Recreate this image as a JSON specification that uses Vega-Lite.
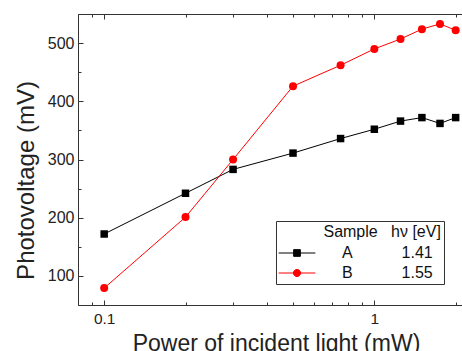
{
  "$schema": "https://vega.github.io/schema/vega-lite/v6.json",
  "autosize": {"type": "none"},
  "padding": {"left": 78, "top": 14, "right": 0, "bottom": 46},
  "width": 384,
  "height": 291,
  "background": "white",
  "config": {
    "view": {"stroke": null},
    "font": "Liberation Sans",
    "axis": {"domainColor": "#333", "tickColor": "#333", "labelColor": "#222", "titleColor": "#222", "grid": false, "labelFont": "Liberation Sans", "titleFont": "Liberation Sans", "titleFontWeight": "normal"},
    "legend": {"labelFont": "Liberation Sans", "titleFont": "Liberation Sans"}
  },
  "data": {"values": [
    {"power": 0.1, "pv": 172, "sample": "A"},
    {"power": 0.2, "pv": 242, "sample": "A"},
    {"power": 0.3, "pv": 283, "sample": "A"},
    {"power": 0.5, "pv": 311, "sample": "A"},
    {"power": 0.75, "pv": 336, "sample": "A"},
    {"power": 1, "pv": 352, "sample": "A"},
    {"power": 1.25, "pv": 366, "sample": "A"},
    {"power": 1.5, "pv": 372, "sample": "A"},
    {"power": 1.75, "pv": 362, "sample": "A"},
    {"power": 2, "pv": 372, "sample": "A"},
    {"power": 0.1, "pv": 79, "sample": "B"},
    {"power": 0.2, "pv": 201, "sample": "B"},
    {"power": 0.3, "pv": 300, "sample": "B"},
    {"power": 0.5, "pv": 426, "sample": "B"},
    {"power": 0.75, "pv": 462, "sample": "B"},
    {"power": 1, "pv": 490, "sample": "B"},
    {"power": 1.25, "pv": 507, "sample": "B"},
    {"power": 1.5, "pv": 524, "sample": "B"},
    {"power": 1.75, "pv": 533, "sample": "B"},
    {"power": 2, "pv": 522, "sample": "B"}
  ]},
  "resolve": {"axis": {"x": "independent", "y": "independent"}},
  "layer": [
    {
      "mark": {"type": "line", "strokeWidth": 1, "clip": true},
      "encoding": {
        "x": {
          "field": "power", "type": "quantitative",
          "scale": {"type": "log", "domain": [0.08, 2.111], "nice": false},
          "axis": {
            "orient": "bottom",
            "values": [0.08, 0.09, 0.1, 0.2, 0.3, 0.4, 0.5, 0.6, 0.7, 0.8, 0.9, 1, 2],
            "labelExpr": "datum.value == 0.1 ? '0.1' : (datum.value == 1 ? '1' : '')",
            "labelFontSize": 15.5,
            "labelPadding": 11,
            "tickSize": {"condition": {"test": "datum.value == 0.1 || datum.value == 1", "value": -5}, "value": -3},
            "title": "Power of incident light (mW)",
            "titleFontSize": 23,
            "titleBaseline": "alphabetic",
            "titleX": 198,
            "titleY": 45,
            "titleAlign": "center"
          }
        },
        "y": {
          "field": "pv", "type": "quantitative",
          "scale": {"domain": [50, 550], "nice": false, "zero": false},
          "axis": {
            "orient": "left",
            "values": [50, 100, 150, 200, 250, 300, 350, 400, 450, 500, 550],
            "labelExpr": "datum.value % 100 == 0 ? datum.label : ''",
            "labelFontSize": 16,
            "labelPadding": 9,
            "tickSize": {"condition": {"test": "datum.value % 100 == 0", "value": -5}, "value": -3},
            "title": "Photovoltage (mV)",
            "titleFontSize": 24,
            "titleBaseline": "alphabetic",
            "titleX": -45,
            "titleY": 166,
            "titleAlign": "center",
            "titleAngle": -90
          }
        },
        "color": {
          "field": "sample", "type": "nominal",
          "scale": {"domain": ["A", "B"], "range": ["#000000", "#ff0000"]}
        }
      }
    },
    {
      "transform": [{"filter": "datum.sample == 'A'"}],
      "mark": {"type": "point", "filled": true, "opacity": 1, "size": 56, "shape": "square", "clip": true},
      "encoding": {
        "x": {
          "field": "power", "type": "quantitative",
          "axis": {
            "orient": "top",
            "values": [0.08, 0.09, 0.1, 0.2, 0.3, 0.4, 0.5, 0.6, 0.7, 0.8, 0.9, 1, 2],
            "labels": false,
            "title": null,
            "tickSize": {"condition": {"test": "datum.value == 0.1 || datum.value == 1", "value": -5}, "value": -3}
          }
        },
        "y": {"field": "pv", "type": "quantitative", "axis": null},
        "color": {
          "field": "sample", "type": "nominal",
          "legend": {
            "orient": "none", "legendX": 198, "legendY": 207,
            "title": "\u200b\u00a0\u00a0\u00a0\u00a0\u00a0\u00a0\u00a0\u00a0\u00a0\u00a0Sample\u00a0\u00a0\u00a0h\u03bd [eV]",
            "titleFontSize": 16, "titleFontWeight": "normal", "titleColor": "#111", "titlePadding": 5,
            "labelFontSize": 16, "labelColor": "#111", "labelOffset": 37,
            "labelExpr": "datum.value == 'A' ? 'A\u00a0\u00a0\u00a0\u00a0\u00a0\u00a0\u00a0\u00a0\u00a0\u00a0\u00a01.41' : 'B\u00a0\u00a0\u00a0\u00a0\u00a0\u00a0\u00a0\u00a0\u00a0\u00a0\u00a01.55'",
            "symbolType": {"expr": "datum.value == 'A' ? 'M-3.67,0H3.67M-0.67,-0.67H0.67V0.67H-0.67Z' : 'M-3.67,0H3.67M0.72,0A0.72,0.72,0,1,1,-0.72,0A0.72,0.72,0,1,1,0.72,0Z'"},
            "symbolSize": 100, "symbolStrokeWidth": 1, "symbolOffset": 10, "rowPadding": 4, "padding": 3,
            "strokeColor": "#333", "fillColor": "white"
          }
        }
      }
    },
    {
      "transform": [{"filter": "datum.sample == 'B'"}],
      "mark": {"type": "point", "filled": true, "opacity": 1, "size": 64, "shape": "circle", "clip": true},
      "encoding": {
        "x": {"field": "power", "type": "quantitative", "axis": null},
        "y": {"field": "pv", "type": "quantitative", "axis": null},
        "color": {"field": "sample", "type": "nominal"}
      }
    }
  ]
}
